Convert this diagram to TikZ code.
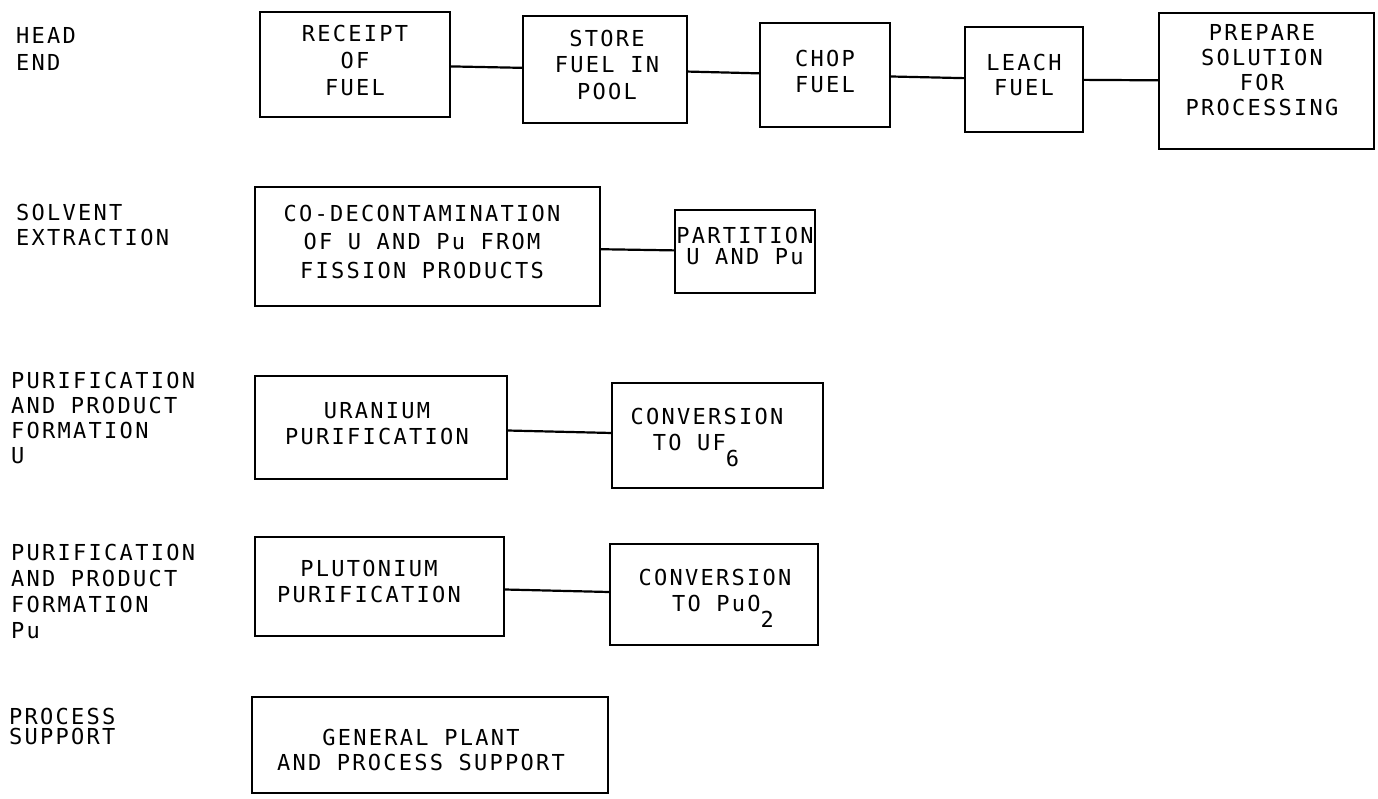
\documentclass[tikz,border=0pt]{standalone}
\usepackage{fontspec}
\newfontfamily\tw[LetterSpace=10.3]{DejaVu Sans Mono}
\newcommand{\sub}[1]{\raisebox{-16pt}[0pt][0pt]{#1}}
\tikzset{
  box/.style={draw, line width=2.2pt, rectangle, inner sep=0pt, outer sep=0pt},
  txt/.style={font=\tw\fontsize{22}{#1}\selectfont, align=center, inner sep=0pt},
  txt/.default=26,
  lbl/.style={txt=#1, align=left, anchor=west},
  lbl/.default=26,
  conn/.style={line width=2.2pt},
}
\begin{document}
\begin{tikzpicture}[x=1pt,y=-1pt]
\fill[white] (0,0) rectangle (1378,799);
\useasboundingbox (0,0) rectangle (1378,799);

% row labels
\node[lbl=26.5] (lhead) at (16,48.8) {HEAD\\END};
\node[lbl=25] (lsolv) at (16,224.5) {SOLVENT\\EXTRACTION};
\node[lbl=25] (lpuu) at (11,417.5) {PURIFICATION\\AND PRODUCT\\FORMATION\\U};
\node[lbl=26] (lpup) at (11,591) {PURIFICATION\\AND PRODUCT\\FORMATION\\Pu};
\node[lbl=20.5] (lsup) at (9,726.5) {PROCESS\\SUPPORT};

% head end boxes
\node[box, minimum width=190pt, minimum height=105pt] (rec) at (355,64.5) {};
\node[box, minimum width=164pt, minimum height=107pt] (sto) at (605,69.5) {};
\node[box, minimum width=130pt, minimum height=104pt] (chop) at (825,75) {};
\node[box, minimum width=118pt, minimum height=105pt] (leach) at (1024,79.5) {};
\node[box, minimum width=215pt, minimum height=136pt] (prep) at (1266.5,81) {};

\node[txt=27] (trec) at (355,60) {RECEIPT\\OF\\FUEL};
\node[txt=26.5] (tsto) at (607,64.5) {STORE\\FUEL IN\\POOL};
\node[txt=25.5] (tchop) at (825,71.3) {CHOP\\FUEL};
\node[txt=25] (tleach) at (1024,74.5) {LEACH\\FUEL};
\node[txt=25] (tprep) at (1262,70.5) {PREPARE\\SOLUTION\\FOR\\PROCESSING};

% solvent extraction
\node[box, minimum width=345pt, minimum height=119pt] (codec) at (427.5,246.5) {};
\node[box, minimum width=140pt, minimum height=83pt] (part) at (745,251.5) {};
\node[txt=28.5] (tcodec) at (422,241.5) {CO-DECONTAMINATION\\OF U AND Pu FROM\\FISSION PRODUCTS};
\node[txt=21] (tpart) at (745,246) {PARTITION\\U AND Pu};

% uranium
\node[box, minimum width=252pt, minimum height=103pt] (uran) at (381,427.5) {};
\node[box, minimum width=211pt, minimum height=105pt] (cuf) at (717.5,435.5) {};
\node[txt=26] (turan) at (377,424) {URANIUM\\PURIFICATION};
\node[txt=26] (tcuf) at (707,429) {CONVERSION\\TO UF\sub{6}\hspace*{22pt}};

% plutonium
\node[box, minimum width=249pt, minimum height=99pt] (plut) at (379.5,586.5) {};
\node[box, minimum width=208pt, minimum height=101pt] (cpu) at (714,594.5) {};
\node[txt=26] (tplut) at (369,581) {PLUTONIUM\\PURIFICATION};
\node[txt=26] (tcpu) at (715,590) {CONVERSION\\\hspace*{16pt}TO PuO\sub{2}};

% process support
\node[box, minimum width=356pt, minimum height=96pt] (gen) at (430,745) {};
\node[txt=25] (tgen) at (421,750) {GENERAL PLANT\\AND PROCESS SUPPORT};

% connectors
\draw[conn] (rec) -- (sto);
\draw[conn] (sto) -- (chop);
\draw[conn] (chop) -- (leach);
\draw[conn] (leach) -- (prep);
\draw[conn] (codec) -- (part);
\draw[conn] (uran) -- (cuf);
\draw[conn] (plut) -- (cpu);
\end{tikzpicture}
\end{document}
